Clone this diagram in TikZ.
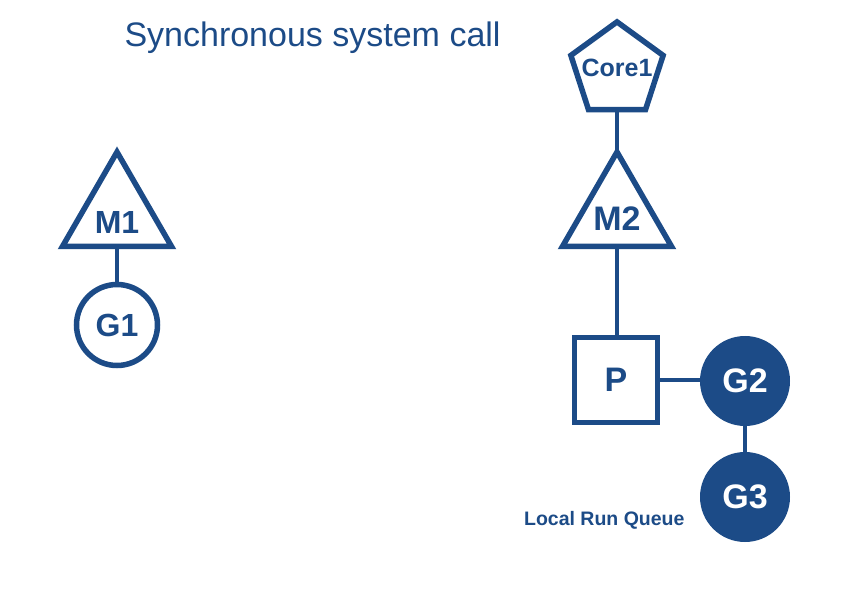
\documentclass[tikz,border=0pt]{standalone}
\usepackage{fontspec}
\setmainfont{Liberation Sans}
\usetikzlibrary{shapes.geometric}
\definecolor{gblue}{HTML}{1C4B87}
\begin{document}
\begin{tikzpicture}[x=1pt,y=-1pt,
  shp/.style={draw=gblue, line width=5.5pt, inner sep=0pt, outer sep=0pt},
  tri/.style={shp, regular polygon, regular polygon sides=3, minimum size=126pt},
  pent/.style={shp, regular polygon, regular polygon sides=5, minimum size=97pt},
  ring/.style={shp, circle, minimum size=81pt, text=gblue, font=\bfseries\fontsize{32}{32}\selectfont},
  disc/.style={circle, fill=gblue, minimum size=90pt, inner sep=0pt, outer sep=0pt, text=white, font=\bfseries\fontsize{34}{34}\selectfont},
  box/.style={shp, rectangle, minimum width=83pt, minimum height=85pt, text=gblue, font=\bfseries\fontsize{34}{34}\selectfont},
  lblA/.style={text=gblue, font=\bfseries\fontsize{32}{32}\selectfont},
  lblB/.style={text=gblue, font=\bfseries\fontsize{34}{34}\selectfont},
  lblC/.style={text=gblue, font=\bfseries\fontsize{25}{25}\selectfont},
  link/.style={draw=gblue, line width=4.5pt}]
\useasboundingbox (0,0) rectangle (843,609);
\fill[white] (0,0) rectangle (843,609);

\node[anchor=base west, text=gblue, font=\fontsize{34}{34}\selectfont] (title) at (121,47) {Synchronous system call};

% left
\node[tri, label={[lblA,yshift=-7.5pt]center:M1}] (m1) at (117,215) {};
\node[ring] (g1) at (117,325) {G1};

% right
\node[pent, label={[lblC,yshift=3pt]center:Core1}] (core) at (617,70.4) {};
\node[tri, label={[lblB,yshift=-4pt]center:M2}] (m2) at (617,215) {};
\node[box] (p) at (616,380) {P};
\node[disc] (g2) at (745,381) {G2};
\node[disc] (g3) at (745,497) {G3};
\node[anchor=base east, text=gblue, font=\bfseries\fontsize{19.5}{19.5}\selectfont] (lrq) at (688,525) {Local Run Queue};

% connectors
\draw[link] (m1.south) -- (g1.north);
\draw[link] (core.south) -- (m2.north);
\draw[link] (m2.south) -- (m2.south |- p.north);
\draw[link] (p.east) -- (p.east -| g2.west);
\draw[link] (g2.south) -- (g3.north);
\end{tikzpicture}
\end{document}
